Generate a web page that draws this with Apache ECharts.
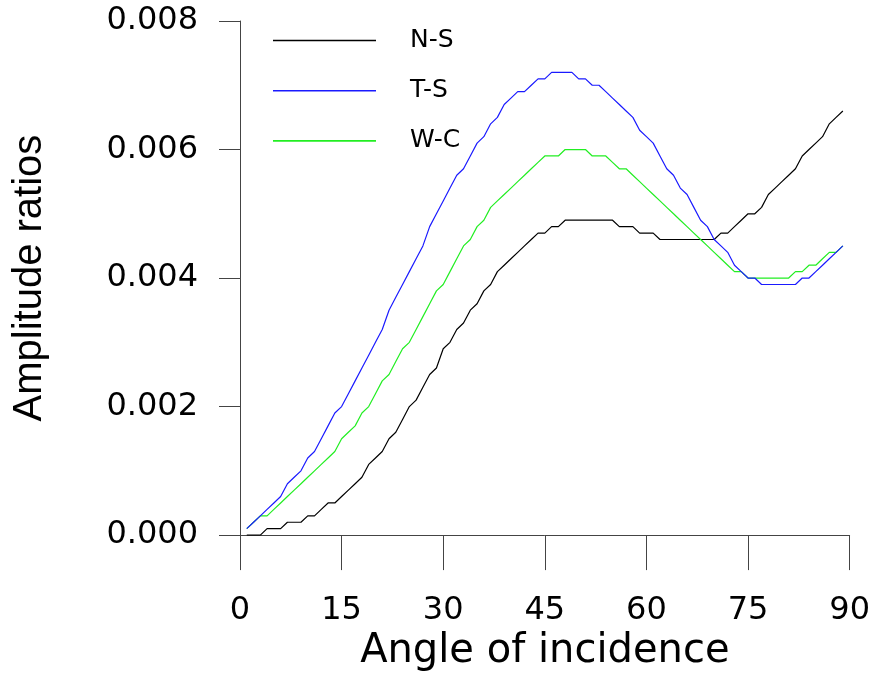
<!DOCTYPE html>
<html>
<head>
<meta charset="utf-8">
<script src="https://cdn.jsdelivr.net/npm/echarts@6/dist/echarts.min.js"></script>
<style>
html,body{margin:0;padding:0;background:#fff;}
#chart{width:873px;height:677px;}
</style>
</head>
<body>
<div id="chart"></div>
<script>
// Angle of incidence (degrees)
var angles = [1,2,3,4,5,6,7,8,9,10,11,12,13,14,15,16,17,18,19,20,
  21,22,23,24,25,26,27,28,29,30,31,32,33,34,35,36,37,38,39,40,
  41,42,43,44,45,46,47,48,49,50,51,52,53,54,55,56,57,58,59,60,
  61,62,63,64,65,66,67,68,69,70,71,72,73,74,75,76,77,78,79,80,
  81,82,83,84,85,86,87,88,89];

var nsValues = [0,0,0,0.0001,0.0001,0.0001,0.0002,0.0002,0.0002,0.0003,
  0.0003,0.0004,0.0005,0.0005,0.0006,0.0007,0.0008,0.0009,0.0011,0.0012,
  0.0013,0.0015,0.0016,0.0018,0.0020,0.0021,0.0023,0.0025,0.0026,0.0029,
  0.0030,0.0032,0.0033,0.0035,0.0036,0.0038,0.0039,0.0041,0.0042,0.0043,
  0.0044,0.0045,0.0046,0.0047,0.0047,0.0048,0.0048,0.0049,0.0049,0.0049,
  0.0049,0.0049,0.0049,0.0049,0.0049,0.0048,0.0048,0.0048,0.0047,0.0047,
  0.0047,0.0046,0.0046,0.0046,0.0046,0.0046,0.0046,0.0046,0.0046,0.0046,
  0.0047,0.0047,0.0048,0.0049,0.0050,0.0050,0.0051,0.0053,0.0054,0.0055,
  0.0056,0.0057,0.0059,0.0060,0.0061,0.0062,0.0064,0.0065,0.0066];

var tsValues = [0.0001,0.0002,0.0003,0.0004,0.0005,0.0006,0.0008,0.0009,0.0010,0.0012,
  0.0013,0.0015,0.0017,0.0019,0.0020,0.0022,0.0024,0.0026,0.0028,0.0030,
  0.0032,0.0035,0.0037,0.0039,0.0041,0.0043,0.0045,0.0048,0.0050,0.0052,
  0.0054,0.0056,0.0057,0.0059,0.0061,0.0062,0.0064,0.0065,0.0067,0.0068,
  0.0069,0.0069,0.0070,0.0071,0.0071,0.0072,0.0072,0.0072,0.0072,0.0071,
  0.0071,0.0070,0.0070,0.0069,0.0068,0.0067,0.0066,0.0065,0.0063,0.0062,
  0.0061,0.0059,0.0057,0.0056,0.0054,0.0053,0.0051,0.0049,0.0048,0.0046,
  0.0045,0.0044,0.0042,0.0041,0.0040,0.0040,0.0039,0.0039,0.0039,0.0039,
  0.0039,0.0039,0.0040,0.0040,0.0041,0.0042,0.0043,0.0044,0.0045];

var wcValues = [0.0001,0.0002,0.0003,0.0003,0.0004,0.0005,0.0006,0.0007,0.0008,0.0009,
  0.0010,0.0011,0.0012,0.0013,0.0015,0.0016,0.0017,0.0019,0.0020,0.0022,
  0.0024,0.0025,0.0027,0.0029,0.0030,0.0032,0.0034,0.0036,0.0038,0.0039,
  0.0041,0.0043,0.0045,0.0046,0.0048,0.0049,0.0051,0.0052,0.0053,0.0054,
  0.0055,0.0056,0.0057,0.0058,0.0059,0.0059,0.0059,0.0060,0.0060,0.0060,
  0.0060,0.0059,0.0059,0.0059,0.0058,0.0057,0.0057,0.0056,0.0055,0.0054,
  0.0053,0.0052,0.0051,0.0050,0.0049,0.0048,0.0047,0.0046,0.0045,0.0044,
  0.0043,0.0042,0.0041,0.0041,0.0040,0.0040,0.0040,0.0040,0.0040,0.0040,
  0.0040,0.0041,0.0041,0.0042,0.0042,0.0043,0.0044,0.0044,0.0045];

var seriesNames = ['N-S', 'T-S', 'W-C'];
var xTicks = [0, 15, 30, 45, 60, 75, 90];
var yTicks = [0.000, 0.002, 0.004, 0.006, 0.008];

function pairs(vals) {
  return angles.map(function (a, i) { return [a, vals[i]]; });
}

var FONT_WIDE = "'DejaVu Sans', sans-serif";
var FONT = "'Liberation Sans', Arial, sans-serif";
var axisColor = '#444';

var chart = echarts.init(document.getElementById('chart'), null, {renderer: 'canvas'});
chart.setOption({
  backgroundColor: '#fff',
  animation: false,
  grid: {left: 240, right: 21, top: 21, bottom: 134, containLabel: false},
  legend: {
    orient: 'vertical',
    left: 273,
    top: 28,
    padding: 0,
    icon: 'rect',
    itemWidth: 103,
    itemHeight: 1.6,
    itemGap: 25.2,
    data: seriesNames,
    textStyle: {fontFamily: FONT_WIDE, fontSize: 25, color: '#000', padding: [0, 0, 0, 29]}
  },
  xAxis: {
    type: 'value',
    min: xTicks[0],
    max: xTicks[xTicks.length - 1],
    interval: 15,
    name: 'Angle of incidence',
    nameLocation: 'middle',
    nameGap: 91,
    nameTextStyle: {fontFamily: FONT_WIDE, fontSize: 40, color: '#000'},
    axisLine: {show: true, lineStyle: {color: axisColor, width: 1}},
    axisTick: {show: true, length: 35, lineStyle: {color: axisColor, width: 1}},
    axisLabel: {fontFamily: FONT_WIDE, fontSize: 32, color: '#000', margin: 60},
    splitLine: {show: false}
  },
  yAxis: {
    type: 'value',
    min: yTicks[0],
    max: yTicks[yTicks.length - 1],
    interval: 0.002,
    name: 'Amplitude ratios',
    nameLocation: 'middle',
    nameGap: 190,
    nameTextStyle: {fontFamily: FONT, fontSize: 40, color: '#000'},
    axisLine: {show: true, lineStyle: {color: axisColor, width: 1}},
    axisTick: {show: true, length: 21, lineStyle: {color: axisColor, width: 1}},
    axisLabel: {fontFamily: FONT_WIDE, fontSize: 32, color: '#000', margin: 42,
      formatter: function (v) { return v.toFixed(3); }},
    splitLine: {show: false}
  },
  series: [
    {name: seriesNames[0], type: 'line', data: pairs(nsValues), symbol: 'none', z: 2,
     lineStyle: {color: '#000000', width: 1.2}, itemStyle: {color: '#000000'}},
    {name: seriesNames[1], type: 'line', data: pairs(tsValues), symbol: 'none', z: 4,
     lineStyle: {color: '#1a1aff', width: 1.2}, itemStyle: {color: '#1a1aff'}},
    {name: seriesNames[2], type: 'line', data: pairs(wcValues), symbol: 'none', z: 3,
     lineStyle: {color: '#22ee22', width: 1.2}, itemStyle: {color: '#22ee22'}}
  ]
});
</script>
</body>
</html>
